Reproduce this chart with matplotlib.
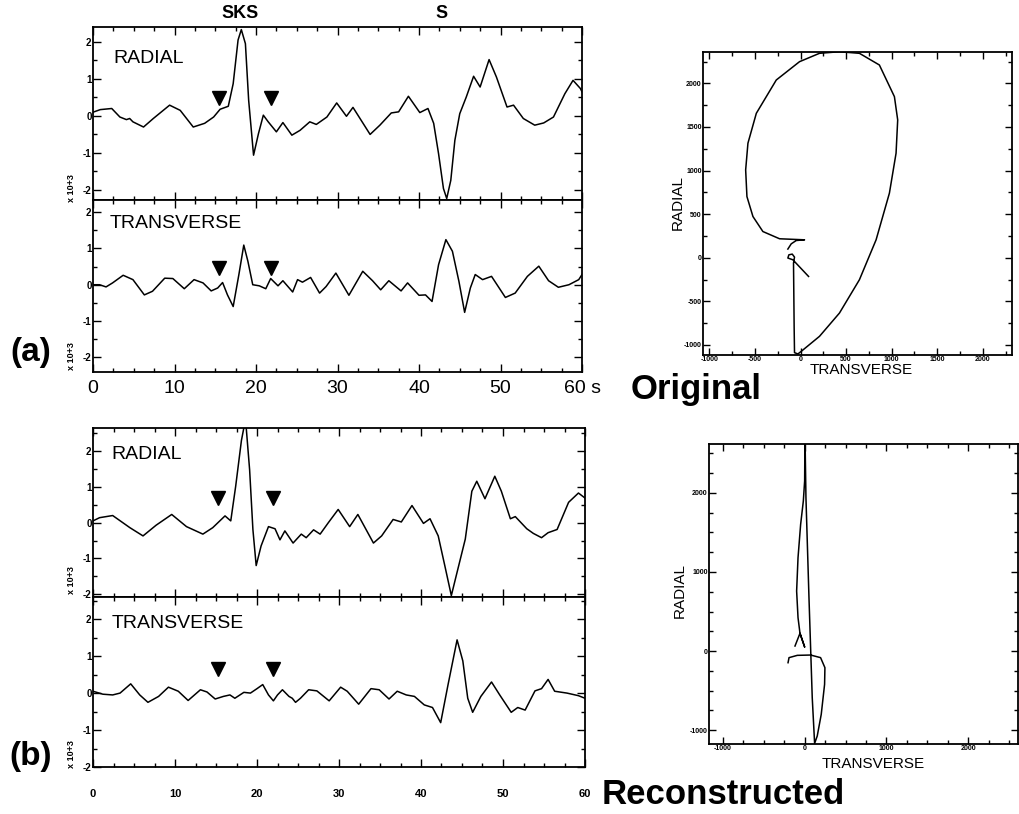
import matplotlib
matplotlib.use('Agg')
import matplotlib.pyplot as plt
from matplotlib.ticker import MultipleLocator

plt.rcParams['font.family'] = ['Liberation Sans', 'DejaVu Sans']

# ---------------- data ----------------
# (a) Original, radial component (x 10^3)
ra_t = [0, 0.9, 2.3, 3.3, 4.1, 4.5, 4.9, 6.2, 7.4, 9.4, 10.7, 12.3, 13.7, 14.8, 15.6, 16.6, 17.2, 17.8, 18.2, 18.7,
        19.1, 19.7, 20.3, 20.9, 21.5, 22.5, 23.3, 24.4, 25.4, 26.6, 27.4, 28.7, 29.9, 31.1, 31.9, 34.0, 35.2, 36.6,
        37.5, 38.7, 40.1, 41.1, 41.8, 42.4, 43.0, 43.4, 43.9, 44.4, 45.0, 45.8, 46.7, 47.5, 48.6, 49.5, 50.8, 51.6,
        52.8, 54.2, 55.3, 56.5, 57.9, 58.9, 59.8, 60]
ra_v = [0.1, 0.17, 0.2, -0.03, -0.1, -0.07, -0.16, -0.3, -0.07, 0.29, 0.15, -0.3, -0.2, -0.03, 0.18, 0.26, 0.87,
        2.05, 2.33, 1.95, 0.42, -1.06, -0.48, 0.02, -0.16, -0.43, -0.18, -0.52, -0.39, -0.16, -0.23, -0.03, 0.35,
        -0.01, 0.23, -0.5, -0.25, 0.08, 0.11, 0.53, 0.09, 0.2, -0.2, -1.02, -1.96, -2.23, -1.74, -0.66, 0.06, 0.51,
        1.07, 0.78, 1.52, 1.05, 0.24, 0.29, -0.07, -0.25, -0.19, -0.03, 0.6, 0.96, 0.74, 0.65]

# (a) Original, transverse component
ta_t = [0, 0.8, 1.6, 2.4, 3.7, 4.9, 6.3, 7.3, 8.8, 9.8, 11.2, 12.4, 13.5, 14.5, 15.3, 15.9, 16.5, 17.2, 17.9, 18.5,
        19.0, 19.6, 20.4, 21.2, 21.8, 22.7, 23.3, 24.5, 25.1, 25.7, 26.7, 27.8, 28.6, 29.8, 31.4, 33.1, 34.3, 35.3,
        36.3, 37.8, 38.6, 40.0, 40.8, 41.6, 42.4, 43.3, 44.1, 44.9, 45.6, 46.3, 46.9, 47.8, 48.9, 50.6, 51.8, 53.3,
        54.7, 55.9, 57.1, 58.4, 59.6, 60]
ta_v = [0, 0, -0.06, 0.05, 0.26, 0.14, -0.28, -0.18, 0.18, 0.17, -0.11, 0.14, 0.05, -0.17, -0.09, 0.06, -0.28, -0.6,
        0.28, 1.09, 0.65, 0, -0.03, -0.11, 0.17, -0.03, 0.11, -0.2, 0.14, 0.07, 0.2, -0.23, -0.05, 0.32, -0.29, 0.37,
        0.11, -0.14, 0.11, -0.17, 0.05, -0.29, -0.28, -0.46, 0.55, 1.24, 0.92, 0.09, -0.76, -0.09, 0.28, 0.14, 0.23,
        -0.35, -0.23, 0.23, 0.51, 0.11, -0.07, 0, 0.14, 0.28]

# (b) Reconstructed, radial component
rb_t = [0, 0.8, 2.4, 4.5, 6.1, 7.7, 9.6, 11.4, 13.4, 14.6, 16.1, 16.8, 17.4, 18.1, 18.6, 19.1, 19.5, 19.9, 20.5,
        21.4, 22.2, 22.8, 23.4, 24.4, 25.4, 26.0, 26.9, 27.7, 28.7, 29.9, 31.3, 32.3, 34.2, 35.2, 36.6, 37.6, 38.9,
        40.3, 41.1, 42.1, 42.9, 43.7, 44.3, 45.4, 46.2, 46.8, 47.8, 49.0, 49.8, 50.9, 51.5, 52.9, 53.7, 54.7, 55.5,
        56.6, 58.0, 59.2, 60]
rb_v = [0.05, 0.14, 0.2, -0.14, -0.37, -0.07, 0.23, -0.11, -0.32, -0.14, 0.19, 0.05, 1.02, 2.3, 2.9, 1.48, -0.19,
        -1.2, -0.65, -0.11, -0.17, -0.48, -0.23, -0.57, -0.32, -0.42, -0.2, -0.32, 0, 0.37, -0.11, 0.23, -0.57,
        -0.37, 0.09, 0.02, 0.48, -0.02, 0.11, -0.37, -1.2, -2.04, -1.48, -0.46, 0.88, 1.16, 0.67, 1.3, 0.88, 0.11,
        0.17, -0.17, -0.3, -0.42, -0.28, -0.19, 0.57, 0.83, 0.69]

# (b) Reconstructed, transverse component
tb_t = [0, 1.2, 2.4, 3.3, 4.6, 5.7, 6.7, 8.0, 9.2, 10.4, 11.6, 13.1, 13.9, 14.9, 15.9, 16.7, 17.3, 18.4, 19.2, 20.0,
        20.7, 21.4, 22.0, 22.5, 23.1, 23.9, 24.3, 24.7, 25.3, 26.3, 27.3, 28.8, 30.2, 31.0, 32.4, 33.9, 34.9, 36.1,
        37.1, 38.2, 39.2, 40.4, 41.4, 42.4, 43.3, 44.4, 45.1, 45.7, 46.3, 47.3, 48.6, 49.6, 51.0, 51.8, 52.7, 53.9,
        54.7, 55.5, 56.3, 57.8, 59.2, 60]
tb_v = [0.05, -0.03, -0.05, 0, 0.25, -0.05, -0.25, -0.09, 0.16, 0.05, -0.2, 0.09, 0.03, -0.16, -0.09, -0.05, -0.14,
        0.02, 0, 0.12, 0.23, -0.05, -0.21, -0.05, 0.09, -0.09, -0.14, -0.25, -0.14, 0.09, 0.06, -0.21, 0.16, 0.05,
        -0.3, 0.12, 0.09, -0.16, 0.05, -0.05, -0.09, -0.32, -0.39, -0.8, 0.23, 1.44, 0.87, -0.14, -0.52, -0.09, 0.3,
        -0.05, -0.52, -0.39, -0.46, 0.06, 0.12, 0.37, 0.05, 0, -0.07, -0.14]

# window markers (triangles)
tri_a_t = [15.5, 21.9]
tri_ra_v = [0.47, 0.47]
tri_ta_v = [0.46, 0.46]
tri_b_t = [15.2, 22.0]
tri_rb_v = [0.69, 0.69]
tri_tb_v = [0.64, 0.64]

# particle motion (transverse, radial)
pma_T = [-139, -102, -47, 44, -230, -413, -522, -588, -602, -577, -485, -266, -11, 208, 427, 646, 865, 1030, 1066,
         1048, 975, 829, 646, 427, 208, 8, -29, -66, -70, -77, -66, -91, -128, -139, -84, 88]
pma_R = [100, 160, 198, 206, 218, 301, 473, 702, 1008, 1314, 1657, 2039, 2249, 2345, 2363, 2345, 2211, 1848, 1581,
         1199, 741, 206, -252, -634, -901, -1073, -1103, -1088, -800, -61, 8, 42, 34, -3, -23, -214]
pmb_T = [-118, -57, 0, -57, -81, -98, -81, -49, -16, 0, 4, 16, 53, 93, 122, 154, 203, 244, 248, 195, 73, -90, -191,
         -203]
pmb_R = [63, 224, 51, 224, 422, 759, 1181, 1603, 1899, 2152, 2750, 1941, 675, -591, -1170, -1076, -802, -422, -211,
         -84, -51, -55, -84, -148]

# ticks / labels
time_ticks = [0, 10, 20, 30, 40, 50, 60]
time_labels_a = ['0', '10', '20', '30', '40', '50', '60 s']
time_labels_b = ['0', '10', '20', '30', '40', '50', '60']
amp_ticks = [-2, -1, 0, 1, 2]
amp_labels = ['-2', '-1', '0', '1', '2']
pma_ticks = [-1000, -500, 0, 500, 1000, 1500, 2000]
pmb_ticks = [-1000, 0, 1000, 2000]

# ---------------- figure ----------------
W, H = 1019, 814
fig = plt.figure(figsize=(W / 100, H / 100), dpi=100)
fig.patch.set_facecolor('white')


def rect(x0, y0, x1, y1):
    return [x0 / W, 1 - y1 / H, (x1 - x0) / W, (y1 - y0) / H]


def trace_ax(r, t, v, ylim, label, lxy, tri_t, tri_v):
    ax = fig.add_axes(r)
    ax.plot(t, v, color='black', lw=1.1, solid_joinstyle='round')
    ax.plot(tri_t, tri_v, linestyle='none', marker='v', ms=10, color='black')
    ax.set_xlim(0, 60)
    ax.set_ylim(*ylim)
    ax.xaxis.set_major_locator(MultipleLocator(10))
    ax.xaxis.set_minor_locator(MultipleLocator(2.5))
    ax.set_yticks(amp_ticks)
    ax.set_yticklabels(amp_labels, fontsize=7, fontweight='bold')
    ax.yaxis.set_minor_locator(MultipleLocator(0.5))
    ax.tick_params(which='both', direction='in', top=True, right=True, width=1.0)
    ax.tick_params(which='major', length=6)
    ax.tick_params(which='minor', length=3)
    ax.tick_params(axis='y', pad=1)
    for s in ax.spines.values():
        s.set_linewidth(1.3)
    ax.text(lxy[0], lxy[1], label, transform=ax.transAxes, fontsize=14, ha='left', va='center')
    return ax


ax1 = trace_ax(rect(93, 27, 582, 200), ra_t, ra_v, (-2.27, 2.4), 'RADIAL', (0.041, 0.82), tri_a_t, tri_ra_v)
ax1.set_xticks(time_ticks)
ax1.set_xticklabels([])

ax2 = trace_ax(rect(93, 200, 582, 372), ta_t, ta_v, (-2.4, 2.33), 'TRANSVERSE', (0.035, 0.866), tri_a_t, tri_ta_v)
ax2.set_xticks(time_ticks)
ax2.set_xticklabels(time_labels_a, fontsize=14)
ax2.tick_params(axis='x', pad=6)

ax3 = trace_ax(rect(93, 428, 585, 597), rb_t, rb_v, (-2.08, 2.65), 'RADIAL', (0.037, 0.846), tri_b_t, tri_rb_v)
ax3.set_xticks(time_ticks)
ax3.set_xticklabels([])

ax4 = trace_ax(rect(93, 597, 585, 767), tb_t, tb_v, (-2.0, 2.6), 'TRANSVERSE', (0.037, 0.847), tri_b_t, tri_tb_v)
ax4.set_xticks(time_ticks)
ax4.set_xticklabels(time_labels_b, fontsize=8, fontweight='bold')
ax4.tick_params(axis='x', pad=16)

# "x 10+3" scale labels
for yc in (188, 356, 580, 754):
    fig.text(71 / W, 1 - yc / H, 'x 10+3', rotation=90, fontsize=6.5, fontweight='bold', ha='center', va='center')


def pm_ax(r, T, R, xlim, ylim, ticks, minor, lab_r, lab_t):
    ax = fig.add_axes(r)
    ax.plot(T, R, color='black', lw=1.1, solid_joinstyle='round')
    ax.set_xlim(*xlim)
    ax.set_ylim(*ylim)
    ax.set_xticks(ticks)
    ax.set_yticks(ticks)
    ax.set_xticklabels([str(v) for v in ticks], fontsize=5, fontweight='bold')
    ax.set_yticklabels([str(v) for v in ticks], fontsize=5, fontweight='bold')
    ax.xaxis.set_minor_locator(MultipleLocator(minor))
    ax.yaxis.set_minor_locator(MultipleLocator(minor))
    ax.tick_params(which='both', direction='in', top=True, right=True, width=1.0, pad=1)
    ax.tick_params(which='major', length=5)
    ax.tick_params(which='minor', length=3)
    for s in ax.spines.values():
        s.set_linewidth(1.3)
    fig.text(lab_r[0] / W, 1 - lab_r[1] / H, 'RADIAL', rotation=90, fontsize=11, ha='center', va='center')
    fig.text(lab_t[0] / W, 1 - lab_t[1] / H, 'TRANSVERSE', fontsize=11, ha='center', va='center')
    return ax


pm_ax(rect(703, 52, 1012, 355), pma_T, pma_R, (-1070, 2320), (-1115, 2360), pma_ticks, 250, (678, 203), (861, 370))
pm_ax(rect(709, 444, 1018, 744), pmb_T, pmb_R, (-1170, 2610), (-1177, 2620), pmb_ticks, 250, (680, 590), (873, 764))

# headings / panel letters
fig.text(240 / W, 1 - 14 / H, 'SKS', fontsize=13, fontweight='bold', ha='center', va='center')
fig.text(442 / W, 1 - 14 / H, 'S', fontsize=13, fontweight='bold', ha='center', va='center')
fig.text(31 / W, 1 - 352 / H, '(a)', fontsize=24, fontweight='bold', ha='center', va='center')
fig.text(31 / W, 1 - 757 / H, '(b)', fontsize=24, fontweight='bold', ha='center', va='center')
fig.text(696 / W, 1 - 390 / H, 'Original', fontsize=25, fontweight='bold', ha='center', va='center')
fig.text(723 / W, 1 - 795 / H, 'Reconstructed', fontsize=25, fontweight='bold', ha='center', va='center')

fig.savefig('out.png', dpi=100, facecolor='white')
